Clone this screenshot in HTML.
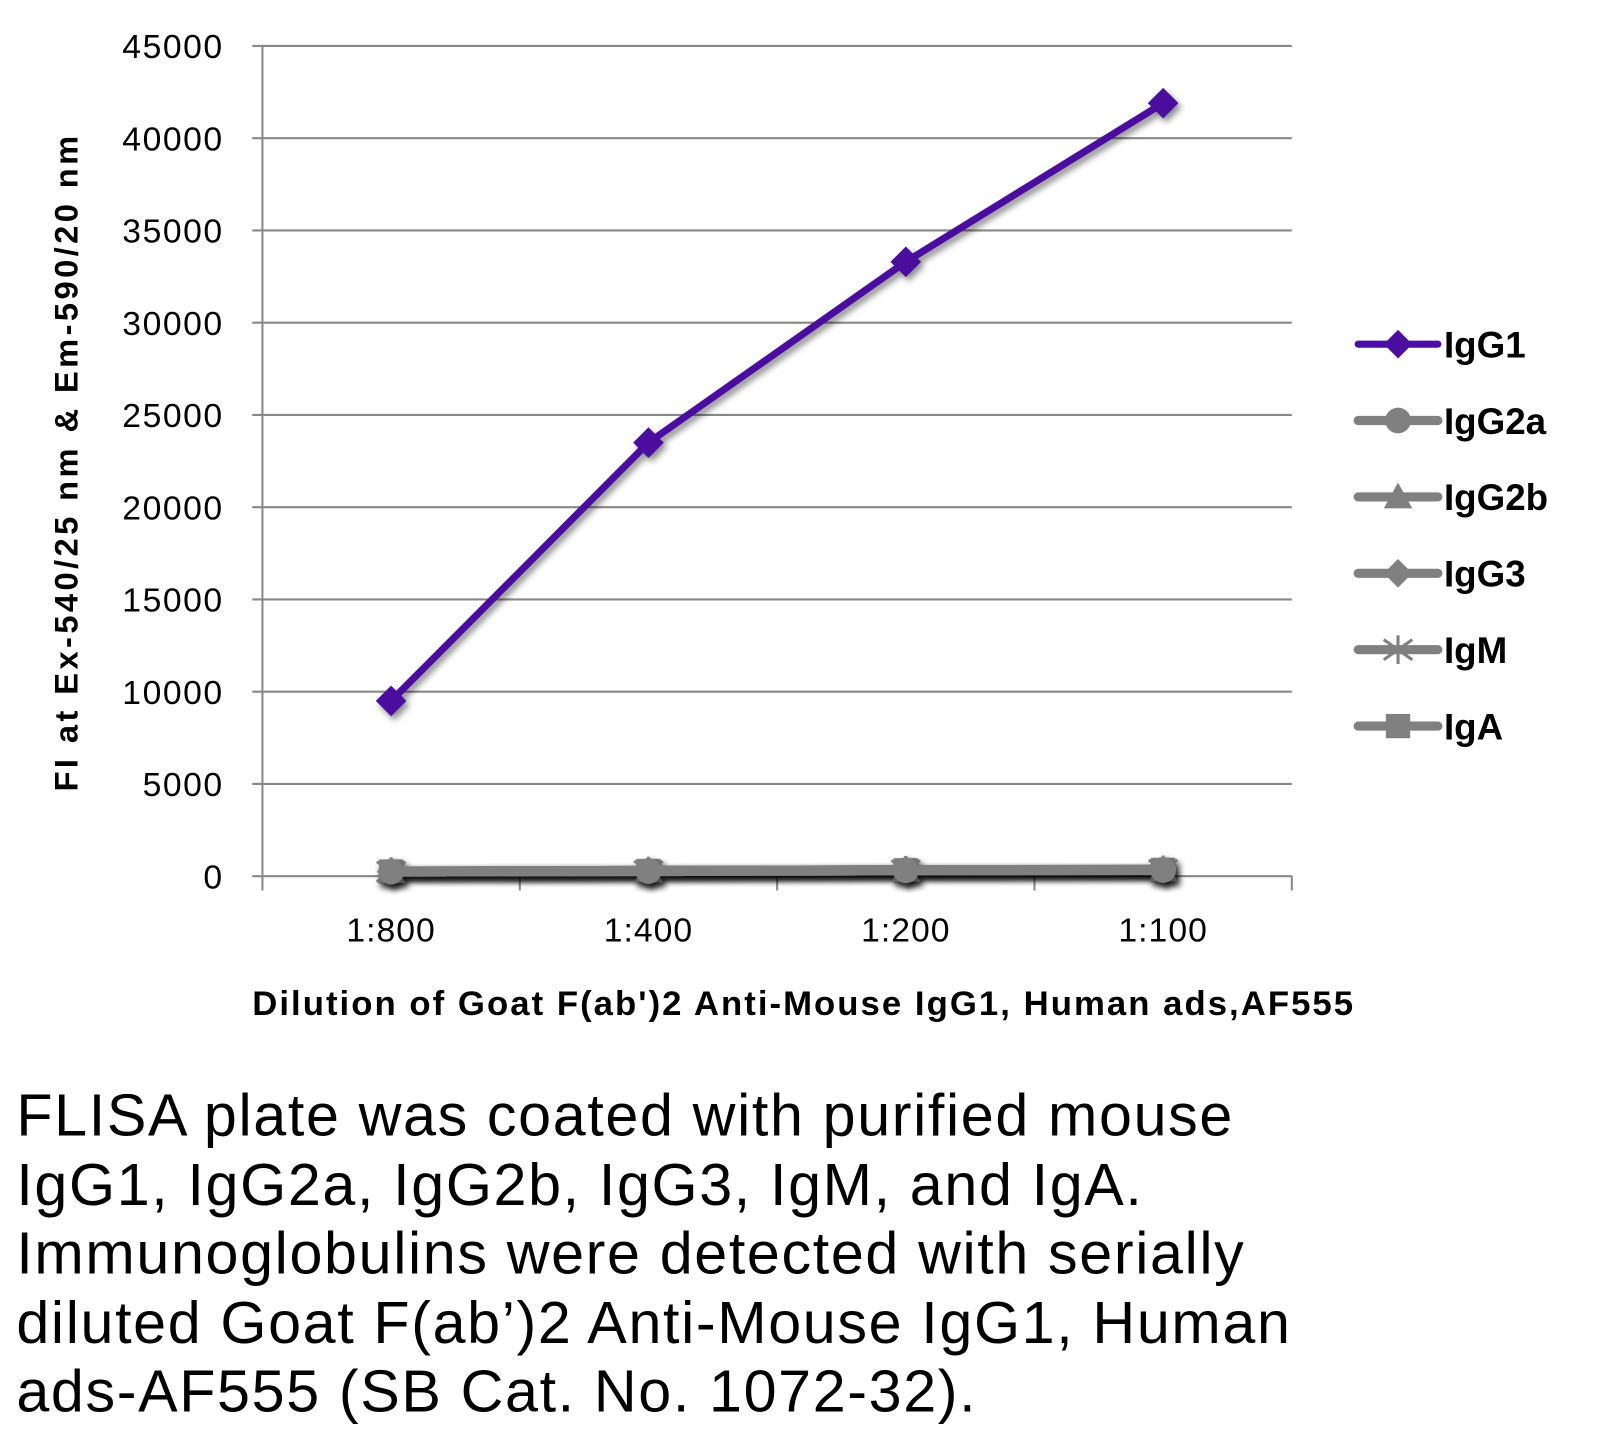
<!DOCTYPE html>
<html><head><meta charset="utf-8"><style>
body{margin:0;background:#fff;width:1600px;height:1435px;overflow:hidden;font-family:"Liberation Sans",sans-serif}
#wrap{position:absolute;left:0;top:0;width:1566px;height:1405px;transform:scale(1.0212);transform-origin:0 0}
#cap{position:absolute;left:16px;top:1059px;font-size:58px;line-height:67.5px;letter-spacing:1.6px;color:#000;width:1540px;white-space:nowrap}
</style></head><body>
<div id="wrap">
<svg id="chart" width="1566" height="1040" style="position:absolute;left:0;top:0" font-family="Liberation Sans, sans-serif"></svg>
<div id="cap">FLISA plate was coated with purified mouse<br>IgG1, IgG2a, IgG2b, IgG3, IgM, and IgA.<br>Immunoglobulins were detected with serially<br>diluted Goat F(ab’)2 Anti-Mouse IgG1, Human<br>ads-AF555 (SB Cat. No. 1072-32).</div>
</div>
<script>
const categories=["1:800","1:400","1:200","1:100"];
const yTicks=[0,5000,10000,15000,20000,25000,30000,35000,40000,45000];
const seriesNames=["IgG1","IgG2a","IgG2b","IgG3","IgM","IgA"];
const igg1=[9500,23500,33300,41900];
const igg2a=[250,280,320,340];
const igg2b=[250,280,320,340];
const igg3=[250,280,320,340];
const igm=[250,280,320,340];
const iga=[250,280,320,340];
const allSeries=[igg1,igg2a,igg2b,igg3,igm,iga];
const markers=["diamond","circle","triangle","diamond","star","square"];
const colors=["#4b0e9e","#808080","#808080","#808080","#808080","#808080"];

const svg=document.getElementById('chart');
const NS="http://www.w3.org/2000/svg";
const L=257,R=1265,T=45,B=858,yMax=45000;
const x=i=>L+(R-L)/categories.length*(i+0.5);
const y=v=>B-(v/yMax)*(B-T);
function mk(tag,attrs,parent){const e=document.createElementNS(NS,tag);for(const k in attrs)e.setAttribute(k,attrs[k]);(parent||svg).appendChild(e);return e;}
const defs=mk('defs',{});
const f=mk('filter',{id:'sh',x:'-50%',y:'-50%',width:'200%',height:'200%'},defs);
mk('feDropShadow',{dx:'3',dy:'4',stdDeviation:'3','flood-color':'#000','flood-opacity':'0.45'},f);

yTicks.forEach(t=>{
  const g=mk('line',{x1:L-10,x2:R,y1:y(t),y2:y(t),stroke:'#888','stroke-width':2});
  
  
  const tx=mk('text',{x:219,y:y(t)+12,'text-anchor':'end','font-size':33,'letter-spacing':'1.5',fill:'#000'});
  tx.textContent=t;
  
  
});
mk('line',{x1:L,x2:L,y1:T,y2:B,stroke:'#888','stroke-width':2});
for(let i=0;i<=categories.length;i++){
  const xx=L+(R-L)/categories.length*i;
  mk('line',{x1:xx,x2:xx,y1:B,y2:B+14,stroke:'#888','stroke-width':2});
}
categories.forEach((c,i)=>{
  const t=mk('text',{x:x(i),y:922,'text-anchor':'middle','font-size':33,'letter-spacing':'1',fill:'#000'});
  t.textContent=c;
  
  
});
const xt=mk('text',{x:247,y:994,'font-size':34,'font-weight':'bold',fill:'#000',textLength:1078,lengthAdjust:'spacing'});
xt.textContent="Dilution of Goat F(ab')2 Anti-Mouse IgG1, Human ads,AF555";


const yt=mk('text',{x:-775,y:76,'font-size':32,'font-weight':'bold',fill:'#000',transform:'rotate(-90)',textLength:642,lengthAdjust:'spacing'});
yt.textContent="FI at Ex-540/25 nm & Em-590/20 nm";



function marker(type,cx,cy,col,s,parent){
  if(type==='diamond')return mk('polygon',{points:`${cx},${cy-s} ${cx+s},${cy} ${cx},${cy+s} ${cx-s},${cy}`,fill:col},parent);
  if(type==='circle')return mk('circle',{cx,cy,r:s*0.9,fill:col},parent);
  if(type==='triangle')return mk('polygon',{points:`${cx},${cy-s} ${cx+s},${cy+s*0.8} ${cx-s},${cy+s*0.8}`,fill:col},parent);
  if(type==='square')return mk('rect',{x:cx-s*0.85,y:cy-s*0.85,width:s*1.7,height:s*1.7,fill:col},parent);
  const g=mk('g',{stroke:col,'stroke-width':3},parent);
  mk('line',{x1:cx-s,y1:cy-s*0.7,x2:cx+s,y2:cy+s*0.7},g);
  mk('line',{x1:cx-s,y1:cy+s*0.7,x2:cx+s,y2:cy-s*0.7},g);
  mk('line',{x1:cx,y1:cy-s,x2:cx,y2:cy+s},g);
  return g;
}
for(let si=allSeries.length-1;si>=0;si--){
  const d=allSeries[si];
  const g=mk('g',{filter:'url(#sh)'});
  
  
  mk('polyline',{points:d.map((v,i)=>x(i)+','+y(v)).join(' '),fill:'none',stroke:colors[si],'stroke-width':si===0?7:10,'stroke-linejoin':'round'},g);
  d.forEach((v,i)=>{
    const m=marker(markers[si],x(i),y(v),colors[si],si===0?15:14,g);
    
    
  });
}
seriesNames.forEach((n,i)=>{
  const ly=337+i*74.8;
  const g=mk('g',{});
  
  
  mk('line',{x1:1330,x2:1408,y1:ly,y2:ly,stroke:colors[i],'stroke-width':i===0?7:9,'stroke-linecap':'round'},g);
  marker(markers[i],1369,ly,colors[i],14,g);
  const t=mk('text',{x:1414,y:ly+13,'font-size':36,'font-weight':'bold',fill:'#000'},g);
  t.textContent=n;
});
</script>
</body></html>
